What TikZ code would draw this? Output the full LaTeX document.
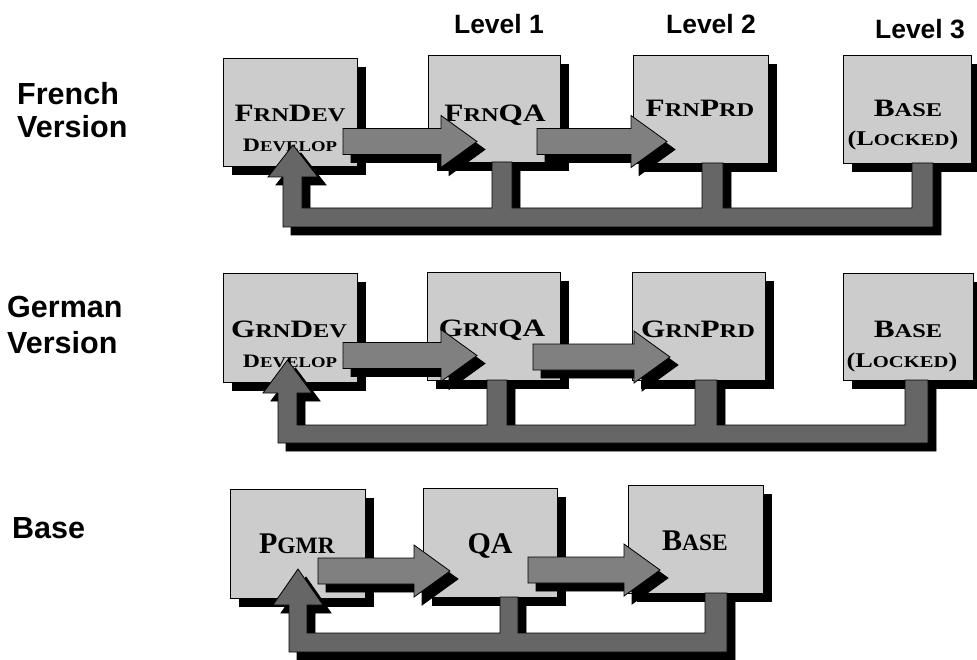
\documentclass[tikz,border=0pt]{standalone}
\usepackage{fontspec}
\setmainfont{Liberation Serif}
\newfontfamily\lblfont{Liberation Sans}
\newfontfamily\wideserif[FakeStretch=1.25]{Liberation Serif}
\usetikzlibrary{shadows}

\definecolor{boxgray}{HTML}{CCCCCC}
\definecolor{arrowgray}{HTML}{808080}
\definecolor{loopgray}{HTML}{666666}

% smaller capitals inside a label (imitates small caps)
\newcommand\smc[2]{{\fontsize{#1}{#1}\selectfont #2}}

% outline of a fat right-pointing arrow: start x, tip x, centre y
\newcommand\fatarrowpath[3]{(#1,#3-13) -- (#2-36,#3-13) -- (#2-36,#3-26) -- (#2,#3)
  -- (#2-36,#3+26) -- (#2-36,#3+13) -- (#1,#3+13) -- cycle}

% return loops collecting the stages back to the development box
\newcommand\loopfrench{(293,145) -- (318,177) -- (302,177) -- (302,208) -- (492,208) -- (492,162)
  -- (512,162) -- (512,208) -- (702,208) -- (702,163) -- (723,163) -- (723,208) -- (912,208)
  -- (912,163) -- (933,163) -- (933,227) -- (283,227) -- (283,177) -- (268,177) -- cycle}
\newcommand\loopgerman{(287.5,360) -- (312,393) -- (297,393) -- (297,425) -- (487,425) -- (487,380)
  -- (507,380) -- (507,425) -- (695,425) -- (695,380) -- (717,380) -- (717,425) -- (905,425)
  -- (905,380) -- (928,380) -- (928,443) -- (278,443) -- (278,393) -- (263,393) -- cycle}
\newcommand\loopbase{(298,569) -- (323,605) -- (307,605) -- (307,633) -- (500,633) -- (500,597)
  -- (518,597) -- (518,633) -- (705,633) -- (705,593) -- (727,593) -- (727,652) -- (289,652)
  -- (289,605) -- (273,605) -- cycle}

\tikzset{
  stage/.style={draw=black, line width=0.8pt, fill=boxgray, inner sep=0pt,
    minimum width=134pt, minimum height=108pt,
    drop shadow={shadow xshift=9pt, shadow yshift=-9pt, opacity=1, fill=black}},
  stagetext/.style={anchor=base, inner sep=0pt,
    font=\wideserif\bfseries\fontsize{25}{25}\selectfont},
  basetext/.style={anchor=base, inner sep=0pt,
    font=\bfseries\fontsize{30}{30}\selectfont},
  rowlabel/.style={anchor=base west, inner sep=0pt,
    font=\lblfont\bfseries\fontsize{30.5}{30.5}\selectfont},
  levellabel/.style={anchor=base, inner sep=0pt,
    font=\lblfont\bfseries\fontsize{26.5}{26.5}\selectfont},
  shade/.style={fill=black, draw=black, line width=0.8pt, shift={(8,8)}},
  arrowbody/.style={fill=arrowgray, draw=black, line width=0.8pt},
  loopbody/.style={fill=loopgray, draw=black, line width=0.8pt},
}

\begin{document}
\begin{tikzpicture}[x=1pt,y=-1pt]
\useasboundingbox (0,0) rectangle (977,660);

% column and row headings
\node[levellabel] (lv1) at (499,34) {Level 1};
\node[levellabel] (lv2) at (711,34) {Level 2};
\node[levellabel] (lv3) at (920,39) {Level 3};
\node[rowlabel] (frA) at (17,105) {French};
\node[rowlabel] (frB) at (17,138) {Version};
\node[rowlabel] (grA) at (7,317) {German};
\node[rowlabel] (grB) at (7,353) {Version};
\node[rowlabel] (bsA) at (12,538) {Base};

% ---- French version ----
\node[stage] (frndev) at (290,112.5) {};
\node[stage, minimum width=132pt, minimum height=107pt] (frnqa) at (494,108.5) {};
\node[stage, minimum width=135pt] (frnprd) at (700.5,109) {};
\node[stage, minimum width=128pt] (frnbase) at (907,109) {};
\node[stagetext] (tfrndev) at (290,122) {F\smc{19.5}{RN}D\smc{19.5}{EV}};
\node[stagetext, font=\wideserif\bfseries\fontsize{19}{19}\selectfont] (tfrndevb) at (290,152) {D\smc{15}{EVELOP}};
\node[stagetext] (tfrnqa) at (495,122) {F\smc{19.5}{RN}QA};
\node[stagetext] (tfrnprd) at (700,117) {F\smc{19.5}{RN}P\smc{19.5}{RD}};
\node[stagetext] (tfrnbase) at (908,117) {B\smc{19.5}{ASE}};
\node[stagetext, font=\wideserif\bfseries\fontsize{21}{21}\selectfont] (tfrnlock) at (903,146) {(L\smc{16.5}{OCKED})};

\path[shade] \loopfrench;
\path[loopbody] \loopfrench;
\path[shade] \fatarrowpath{343}{477}{141.5};
\path[arrowbody] \fatarrowpath{343}{477}{141.5};
\path[shade] \fatarrowpath{537}{667}{141.5};
\path[arrowbody] \fatarrowpath{537}{667}{141.5};

% ---- German version ----
\node[stage, minimum height=109pt] (grndev) at (290,327.5) {};
\node[stage, minimum width=133pt] (grnqa) at (493.5,326) {};
\node[stage, minimum width=133pt] (grnprd) at (698.5,326) {};
\node[stage, minimum width=130pt, minimum height=107pt] (grnbase) at (908,326.5) {};
\node[stagetext] (tgrndev) at (289,337) {G\smc{19.5}{RN}D\smc{19.5}{EV}};
\node[stagetext, font=\wideserif\bfseries\fontsize{19}{19}\selectfont] (tgrndevb) at (290,367) {D\smc{15}{EVELOP}};
\node[stagetext] (tgrnqa) at (492,336) {G\smc{19.5}{RN}QA};
\node[stagetext] (tgrnprd) at (698,337) {G\smc{19.5}{RN}P\smc{19.5}{RD}};
\node[stagetext] (tgrnbase) at (908,337) {B\smc{19.5}{ASE}};
\node[stagetext, font=\wideserif\bfseries\fontsize{21}{21}\selectfont] (tgrnlock) at (902,367) {(L\smc{16.5}{OCKED})};

\path[shade] \loopgerman;
\path[loopbody] \loopgerman;
\path[shade] \fatarrowpath{343}{477}{355.5};
\path[arrowbody] \fatarrowpath{343}{477}{355.5};
\path[shade] \fatarrowpath{533}{670}{357};
\path[arrowbody] \fatarrowpath{533}{670}{357};

% ---- Base ----
\node[stage, minimum width=135pt, minimum height=109pt] (pgmr) at (297.5,543.5) {};
\node[stage, minimum height=109pt] (qa) at (490,542.5) {};
\node[stage, minimum width=135pt] (base) at (695.5,539) {};
\node[basetext] (tpgmr) at (297,553) {P\smc{23.5}{GMR}};
\node[basetext] (tqa) at (490,553) {QA};
\node[basetext] (tbase) at (695,550) {B\smc{23.5}{ASE}};

\path[shade] \loopbase;
\path[loopbody] \loopbase;
\path[shade] \fatarrowpath{318}{450}{571};
\path[arrowbody] \fatarrowpath{318}{450}{571};
\path[shade] \fatarrowpath{528}{660}{570};
\path[arrowbody] \fatarrowpath{528}{660}{570};
\end{tikzpicture}
\end{document}
